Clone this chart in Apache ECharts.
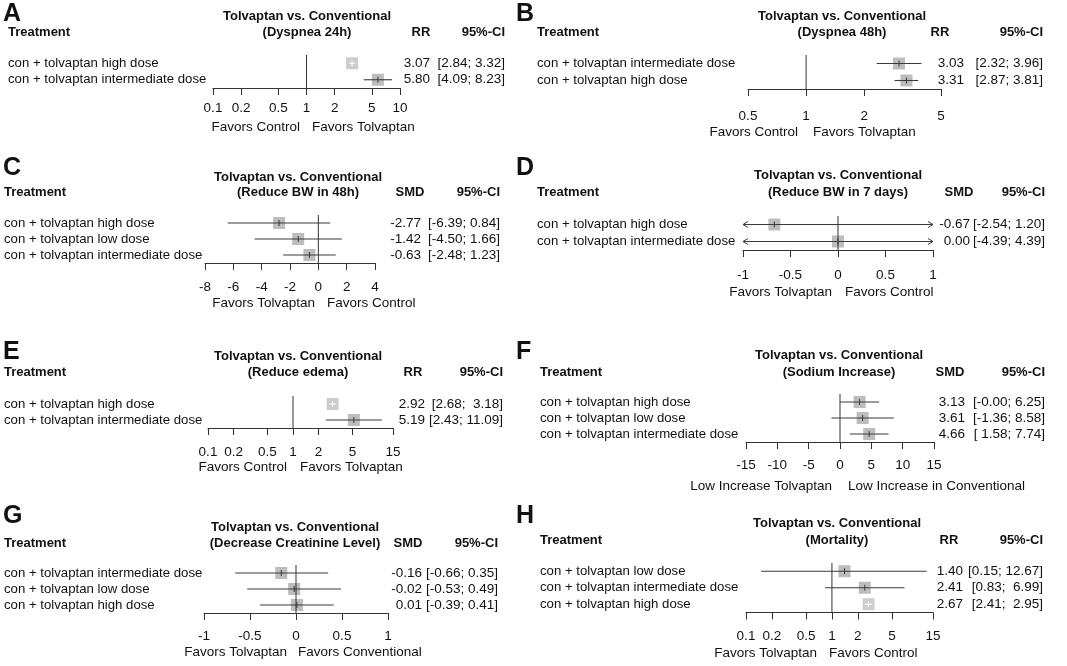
<!DOCTYPE html>
<html>
<head>
<meta charset="UTF-8">
<title>Tolvaptan vs. Conventional</title>
<script src="https://cdn.jsdelivr.net/npm/echarts@6/dist/echarts.min.js"></script>
<style>
html,body{margin:0;padding:0;background:#fff;}
#chart{width:1067px;height:666px;}
</style>
</head>
<body>
<div id="chart"></div>
<script>
// A - Dyspnea 24h (RR)
var rowsA = ['con + tolvaptan high dose', 'con + tolvaptan intermediate dose'];
var estA = [3.07, 5.80];
var loA = [2.84, 4.09];
var hiA = [3.32, 8.23];
var ticksA = [0.1, 0.2, 0.5, 1, 2, 5, 10];

// B - Dyspnea 48h (RR)
var rowsB = ['con + tolvaptan intermediate dose', 'con + tolvaptan high dose'];
var estB = [3.03, 3.31];
var loB = [2.32, 2.87];
var hiB = [3.96, 3.81];
var ticksB = [0.5, 1, 2, 5];

// C - Reduce BW in 48h (SMD)
var rowsC = ['con + tolvaptan high dose', 'con + tolvaptan low dose', 'con + tolvaptan intermediate dose'];
var estC = [-2.77, -1.42, -0.63];
var loC = [-6.39, -4.50, -2.48];
var hiC = [0.84, 1.66, 1.23];
var ticksC = [-8, -6, -4, -2, 0, 2, 4];

// D - Reduce BW in 7 days (SMD)
var rowsD = ['con + tolvaptan high dose', 'con + tolvaptan intermediate dose'];
var estD = [-0.67, 0.00];
var loD = [-2.54, -4.39];
var hiD = [1.20, 4.39];
var ticksD = [-1, -0.5, 0, 0.5, 1];

// E - Reduce edema (RR)
var rowsE = ['con + tolvaptan high dose', 'con + tolvaptan intermediate dose'];
var estE = [2.92, 5.19];
var loE = [2.68, 2.43];
var hiE = [3.18, 11.09];
var ticksE = [0.1, 0.2, 0.5, 1, 2, 5, 15];

// F - Sodium increase (SMD); lower bound printed as -0.00
var rowsF = ['con + tolvaptan high dose', 'con + tolvaptan low dose', 'con + tolvaptan intermediate dose'];
var estF = [3.13, 3.61, 4.66];
var loF = [-0.001, -1.36, 1.58];
var hiF = [6.25, 8.58, 7.74];
var ticksF = [-15, -10, -5, 0, 5, 10, 15];

// G - Decrease creatinine level (SMD)
var rowsG = ['con + tolvaptan intermediate dose', 'con + tolvaptan low dose', 'con + tolvaptan high dose'];
var estG = [-0.16, -0.02, 0.01];
var loG = [-0.66, -0.53, -0.39];
var hiG = [0.35, 0.49, 0.41];
var ticksG = [-1, -0.5, 0, 0.5, 1];

// H - Mortality (RR)
var rowsH = ['con + tolvaptan low dose', 'con + tolvaptan intermediate dose', 'con + tolvaptan high dose'];
var estH = [1.40, 2.41, 2.67];
var loH = [0.15, 0.83, 2.41];
var hiH = [12.67, 6.99, 2.95];
var ticksH = [0.1, 0.2, 0.5, 1, 2, 5, 15];

var FONT = '"Liberation Sans", Arial, Helvetica, sans-serif';

// layout of each panel (pixels)
var panels = [
  {key:'A', rows:rowsA, est:estA, lo:loA, hi:hiA, ticks:ticksA, log:true, ref:1, measure:'RR',
   sub:'(Dyspnea 24h)', left:'Favors Control', right:'Favors Tolvaptan',
   gx:213, gw:187, gy:55, gh:33, labX:8, letX:3, letY:14, t1:16, t2:32, tc:307,
   mX:421, ciX:505, estX:430, labM:13, fy:127, fl:300, fr:312},
  {key:'B', rows:rowsB, est:estB, lo:loB, hi:hiB, ticks:ticksB, log:true, ref:1, measure:'RR',
   sub:'(Dyspnea 48h)', left:'Favors Control', right:'Favors Tolvaptan',
   gx:748, gw:193, gy:55, gh:34, labX:537, letX:516, letY:14, t1:16, t2:32, tc:842,
   mX:940, ciX:1043, estX:964, labM:20, fy:132, fl:798, fr:813},
  {key:'C', rows:rowsC, est:estC, lo:loC, hi:hiC, ticks:ticksC, log:false, ref:0, measure:'SMD',
   sub:'(Reduce BW in 48h)', left:'Favors Tolvaptan', right:'Favors Control',
   gx:205, gw:170, gy:215, gh:48, labX:4, letX:3, letY:168, t1:177, t2:192, tc:298,
   mX:410, ciX:500, estX:421, labM:17, fy:303, fl:315, fr:327},
  {key:'D', rows:rowsD, est:estD, lo:loD, hi:hiD, ticks:ticksD, log:false, ref:0, measure:'SMD',
   sub:'(Reduce BW in 7 days)', left:'Favors Tolvaptan', right:'Favors Control',
   gx:743, gw:190, gy:216, gh:34, labX:537, letX:516, letY:168, t1:175, t2:192, tc:838,
   mX:959, ciX:1045, estX:970, labM:18, fy:292, fl:832, fr:845},
  {key:'E', rows:rowsE, est:estE, lo:loE, hi:hiE, ticks:ticksE, log:true, ref:1, measure:'RR',
   sub:'(Reduce edema)', left:'Favors Control', right:'Favors Tolvaptan',
   gx:208, gw:185, gy:396, gh:32, labX:4, letX:3, letY:352, t1:356, t2:372, tc:298,
   mX:413, ciX:503, estX:425, labM:17, fy:467, fl:287, fr:300},
  {key:'F', rows:rowsF, est:estF, lo:loF, hi:hiF, ticks:ticksF, log:false, ref:0, measure:'SMD',
   sub:'(Sodium Increase)', left:'Low Increase Tolvaptan', right:'Low Increase in Conventional',
   gx:746, gw:188, gy:394, gh:48, labX:540, letX:516, letY:352, t1:355, t2:372, tc:839,
   mX:950, ciX:1045, estX:965, labM:16, fy:486, fl:832, fr:848},
  {key:'G', rows:rowsG, est:estG, lo:loG, hi:hiG, ticks:ticksG, log:false, ref:0, measure:'SMD',
   sub:'(Decrease Creatinine Level)', left:'Favors Tolvaptan', right:'Favors Conventional',
   gx:204, gw:184, gy:565, gh:48, labX:4, letX:3, letY:516, t1:527, t2:543, tc:295,
   mX:408, ciX:498, estX:422, labM:16, fy:652, fl:287, fr:298},
  {key:'H', rows:rowsH, est:estH, lo:loH, hi:hiH, ticks:ticksH, log:true, ref:1, measure:'RR',
   sub:'(Mortality)', left:'Favors Tolvaptan', right:'Favors Control',
   gx:746, gw:187, gy:563, gh:49.5, labX:540, letX:516, letY:516, t1:523, t2:540, tc:837,
   mX:949, ciX:1043, estX:963, labM:17, fy:653, fl:817, fr:829}
];

function padList(arr) {
  var s = arr.map(function (v) { return v.toFixed(2); });
  var n = Math.max.apply(null, s.map(function (t) { return t.length; }));
  return s.map(function (t) { while (t.length < n) t = ' ' + t; return t; });
}

function makeRender(p) {
  var loS = padList(p.lo), hiS = padList(p.hi);
  var n = p.rows.length;
  return function (params, api) {
    var i = params.dataIndex;
    var est = api.value(0), row = api.value(1), lo = api.value(2), hi = api.value(3);
    var cs = params.coordSys;
    var c = api.coord([est, row]);
    var y = c[1];
    var xl = api.coord([lo, row])[0], xh = api.coord([hi, row])[0];
    var arrowL = false, arrowR = false;
    if (xl < cs.x) { xl = cs.x; arrowL = true; }
    if (xh > cs.x + cs.width) { xh = cs.x + cs.width; arrowR = true; }
    var box = 12;
    var inside = (xh - xl) < box;
    var lc = inside ? '#ffffff' : '#3a3a3a';
    var kids = [];
    kids.push({type:'rect', shape:{x:c[0] - box / 2, y:y - box / 2, width:box, height:box},
      style:{fill: inside ? '#cdcdcd' : '#bdbdbd'}});
    kids.push({type:'line', shape:{x1:xl, y1:y, x2:xh, y2:y}, style:{stroke:lc, lineWidth:1.1}});
    kids.push({type:'line', shape:{x1:c[0], y1:y - 3, x2:c[0], y2:y + 3}, style:{stroke:lc, lineWidth:1}});
    if (arrowL) kids.push({type:'polyline', shape:{points:[[xl + 5, y - 3], [xl, y], [xl + 5, y + 3]]}, style:{stroke:lc, fill:null, lineWidth:1}});
    if (arrowR) kids.push({type:'polyline', shape:{points:[[xh - 5, y - 3], [xh, y], [xh - 5, y + 3]]}, style:{stroke:lc, fill:null, lineWidth:1}});
    if (i === n - 1) {
      // reference line (no effect) on top of the boxes
      var xr = api.coord([p.ref, row])[0];
      kids.push({type:'line', shape:{x1:xr, y1:cs.y, x2:xr, y2:cs.y + cs.height}, style:{stroke:'#333', lineWidth:1}});
    }
    kids.push({type:'text', style:{text: est.toFixed(2), x:p.estX, y:y, textAlign:'right', textVerticalAlign:'middle',
      fontSize:13.5, fontFamily:FONT, fill:'#111'}});
    kids.push({type:'text', style:{text: '[' + loS[i] + '; ' + hiS[i] + ']', x:p.ciX, y:y, textAlign:'right', textVerticalAlign:'middle',
      fontSize:13.5, fontFamily:FONT, fill:'#111'}});
    return {type:'group', children:kids};
  };
}

var grid = [], xAxis = [], yAxis = [], series = [], graphic = [];

function txt(text, x, y, align, size, bold) {
  graphic.push({type:'text', silent:true, style:{text:text, x:x, y:y, textAlign:align, textVerticalAlign:'middle',
    fontSize:size, fontWeight: bold ? 'bold' : 'normal', fontFamily:FONT, fill:'#111'}});
}

panels.forEach(function (p, k) {
  grid.push({left:p.gx, top:p.gy, width:p.gw, height:p.gh, containLabel:false});
  var xa = {
    gridIndex:k, type: p.log ? 'log' : 'value', min:p.ticks[0], max:p.ticks[p.ticks.length - 1],
    position:'bottom',
    axisLine:{show:true, onZero:false, lineStyle:{color:'#333', width:1}},
    axisTick:{show:true, length:7, lineStyle:{color:'#333', width:1}},
    axisLabel:{margin:p.labM, fontSize:13.5, color:'#111', fontFamily:FONT, showMinLabel:true, showMaxLabel:true, hideOverlap:false,
      formatter:function (v) { return String(+(+v).toPrecision(3)); }},
    splitLine:{show:false}
  };
  if (p.log) {
    xa.logBase = 10;
    xa.axisTick.customValues = p.ticks;
    xa.axisLabel.customValues = p.ticks;
  } else {
    xa.interval = p.ticks[1] - p.ticks[0];
  }
  xAxis.push(xa);
  yAxis.push({
    gridIndex:k, type:'category', data:p.rows, inverse:true,
    axisLine:{show:false}, axisTick:{show:false}, splitLine:{show:false},
    axisLabel:{interval:0, align:'left', margin:p.gx - p.labX, fontSize:13.2, color:'#111', fontFamily:FONT}
  });
  series.push({
    type:'custom', xAxisIndex:k, yAxisIndex:k, silent:true, clip:false,
    encode:{x:0, y:1},
    data:p.est.map(function (e, i) { return [e, i, p.lo[i], p.hi[i]]; }),
    renderItem:makeRender(p)
  });
  // headings
  txt(p.key, p.letX, p.letY, 'left', 25, true);
  txt('Tolvaptan vs. Conventional', p.tc, p.t1, 'center', 13, true);
  txt(p.sub, p.tc, p.t2, 'center', 13, true);
  txt('Treatment', p.labX, p.t2, 'left', 13, true);
  txt(p.measure, p.mX, p.t2, 'center', 13, true);
  txt('95%-CI', p.ciX, p.t2, 'right', 13, true);
  txt(p.left, p.fl, p.fy, 'right', 13.5, false);
  txt(p.right, p.fr, p.fy, 'left', 13.5, false);
});

var myChart = echarts.init(document.getElementById('chart'));
myChart.setOption({
  backgroundColor:'#ffffff',
  animation:false,
  grid:grid,
  xAxis:xAxis,
  yAxis:yAxis,
  series:series,
  graphic:graphic
});
</script>
</body>
</html>
